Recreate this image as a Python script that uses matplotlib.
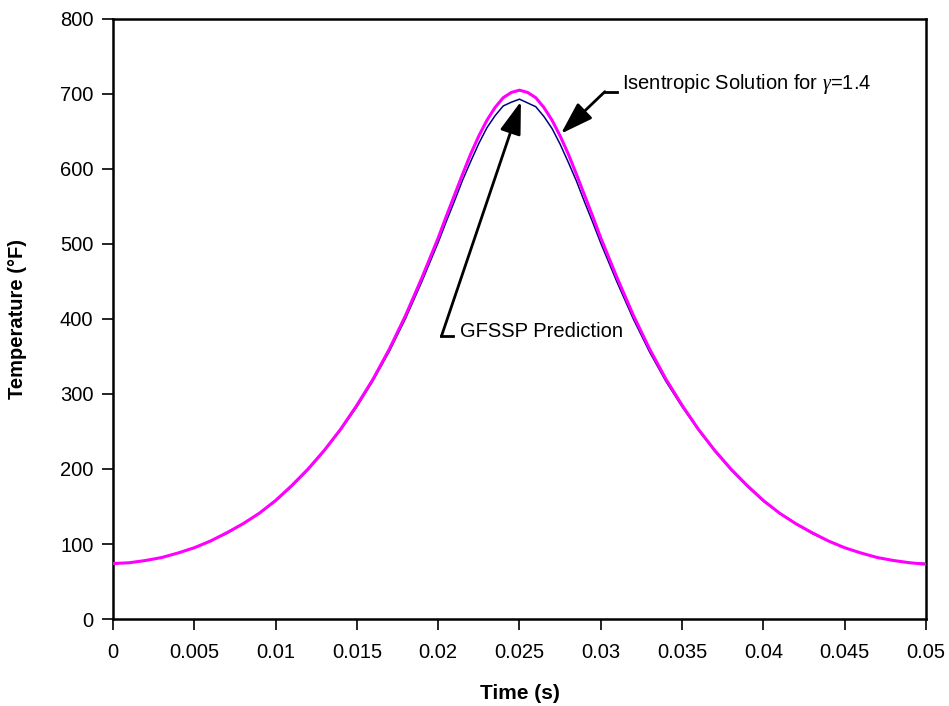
import matplotlib
matplotlib.use("Agg")
import matplotlib.pyplot as plt

plt.rcParams['font.family'] = ['Liberation Sans', 'DejaVu Sans']
plt.rcParams['mathtext.fontset'] = 'custom'
plt.rcParams['mathtext.it'] = 'Liberation Serif:italic'
plt.rcParams['mathtext.rm'] = 'Liberation Sans'

# Time grid (s): coarse on the flanks, finer around the peak
time_s = [0.000, 0.001, 0.002, 0.003, 0.004, 0.005, 0.006, 0.007, 0.008, 0.009,
          0.010, 0.011, 0.012, 0.013, 0.014, 0.015, 0.016, 0.017, 0.018, 0.019,
          0.0200, 0.0205, 0.0210, 0.0215, 0.0220, 0.0225, 0.0230, 0.0235, 0.0240, 0.0245,
          0.0250, 0.0255, 0.0260, 0.0265, 0.0270, 0.0275, 0.0280, 0.0285, 0.0290, 0.0295,
          0.030, 0.031, 0.032, 0.033, 0.034, 0.035, 0.036, 0.037, 0.038, 0.039,
          0.040, 0.041, 0.042, 0.043, 0.044, 0.045, 0.046, 0.047, 0.048, 0.049, 0.050]

# Isentropic solution, gamma = 1.4 (deg F)
temp_isentropic = [74, 75, 78, 82, 88, 95, 104, 115, 127, 141,
                   158, 178, 200, 225, 253, 285, 320, 360, 405, 455,
                   508, 537, 565, 593, 620, 644, 665, 682, 695, 702,
                   705, 702, 695, 682, 665, 644, 620, 593, 565, 537,
                   508, 455, 405, 360, 320, 285, 253, 225, 200, 178,
                   158, 141, 127, 115, 104, 95, 88, 82, 78, 75, 73]

# GFSSP prediction (deg F)
temp_gfssp = [74, 75, 78, 82, 88, 95, 104, 114, 127, 141,
              157, 177, 199, 224, 252, 283, 318, 357, 401, 450,
              502, 530, 557, 585, 610, 634, 655, 671, 684, 689,
              693, 688, 683, 670, 654, 633, 609, 584, 556, 529,
              501, 449, 400, 356, 317, 283, 252, 224, 199, 177,
              157, 141, 127, 114, 104, 95, 88, 82, 78, 75, 74]

x_ticks = [0, 0.005, 0.01, 0.015, 0.02, 0.025, 0.03, 0.035, 0.04, 0.045, 0.05]
x_tick_labels = ["0", "0.005", "0.01", "0.015", "0.02", "0.025", "0.03",
                 "0.035", "0.04", "0.045", "0.05"]
y_ticks = [0, 100, 200, 300, 400, 500, 600, 700, 800]

fig = plt.figure(figsize=(9.49, 7.06), dpi=100)
ax = fig.add_axes([0.119, 0.1232, 0.8568, 0.85])

ax.plot(time_s, temp_gfssp, color='#000080', lw=1.1, zorder=3)
ax.plot(time_s, temp_isentropic, color='#FF00FF', lw=2.2, zorder=4)

ax.set_xlim(0, 0.05)
ax.set_ylim(0, 800)
ax.set_xticks(x_ticks)
ax.set_xticklabels(x_tick_labels)
ax.set_yticks(y_ticks)

for s in ax.spines.values():
    s.set_linewidth(1.8)
ax.tick_params(direction='out', length=8, width=1.2, labelsize=14.5)
ax.tick_params(axis='x', pad=9)
ax.tick_params(axis='y', pad=6)

ax.set_xlabel("Time (s)", fontsize=15, fontweight='bold', labelpad=16)
ax.set_ylabel("Temperature (\u00b0F)", fontsize=14.5, fontweight='bold', labelpad=24)

arrow_kw = dict(arrowstyle='-|>,head_length=2.0,head_width=0.65', color='black',
                lw=2, shrinkA=0, shrinkB=0, mutation_scale=10)

# Isentropic label with elbow leader
ax.plot([0.03025, 0.0310], [703, 703], color='black', lw=2, zorder=5)
ax.annotate("", xy=(0.02755, 647), xytext=(0.03025, 703), arrowprops=arrow_kw, zorder=5)
ax.text(0.0313, 713, r"Isentropic Solution for $\gamma$=1.4", fontsize=14.5,
        va='center', ha='left')

# GFSSP label with elbow leader
ax.plot([0.0202, 0.0209], [377, 377], color='black', lw=2, zorder=5)
ax.annotate("", xy=(0.02509, 690), xytext=(0.0202, 377), arrowprops=arrow_kw, zorder=5)
ax.text(0.02134, 383, "GFSSP Prediction", fontsize=14.5,
        va='center', ha='left')

fig.savefig("out.png", dpi=100)
